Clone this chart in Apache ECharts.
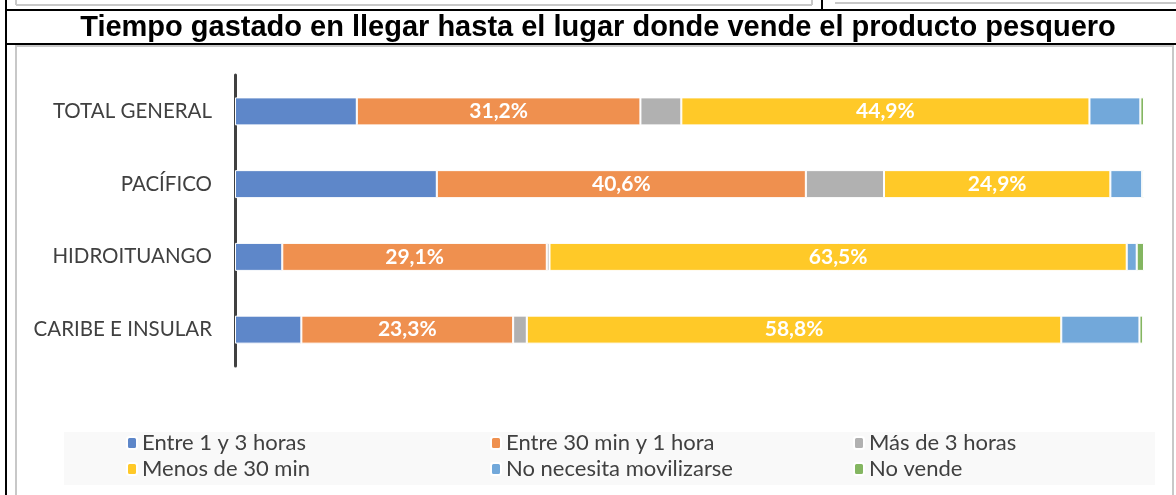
<!DOCTYPE html>
<html>
<head>
<meta charset="utf-8">
<script src="https://cdn.jsdelivr.net/npm/echarts@6/dist/echarts.min.js"></script>
<style>
  html, body { margin: 0; padding: 0; background: #fff; }
  #chart { width: 1176px; height: 495px; }
</style>
</head>
<body>
<div id="chart"></div>
<script>
// categorias (de arriba hacia abajo)
let categorias = ['TOTAL GENERAL', 'PACÍFICO', 'HIDROITUANGO', 'CARIBE E INSULAR'];

// porcentajes por serie
let entre1y3 = [13.4, 22.2, 5.2, 7.3];
let entre30y1 = [31.2, 40.6, 29.1, 23.3];
let masDe3 = [4.5, 8.6, 0.3, 1.5];
let menos30 = [44.9, 24.9, 63.5, 58.8];
let noNecesita = [5.6, 3.5, 1.1, 8.6];
let noVende = [0.4, 0.2, 0.8, 0.4];

let nombres = ['Entre 1 y 3 horas', 'Entre 30 min y 1 hora', 'Más de 3 horas',
               'Menos de 30 min', 'No necesita movilizarse', 'No vende'];
let valores = [entre1y3, entre30y1, masDe3, menos30, noNecesita, noVende];
let colores = ['#5e87c9', '#ef904f', '#b1b1b1', '#ffc928', '#72a8da', '#84b661'];
let conEtiqueta = [false, true, false, true, false, false];

// posiciones de la leyenda (3 columnas x 2 filas)
let leyendaX = [126, 490, 853];
let leyendaY = [432, 458];

let myChart = echarts.init(document.getElementById('chart'));

let series = nombres.map(function (nombre, i) {
    return {
        name: nombre,
        type: 'bar',
        stack: 'total',
        barWidth: 28,
        data: valores[i],
        itemStyle: {
            color: colores[i],
            borderColor: '#ffffff',
            borderWidth: 1
        },
        label: {
            show: conEtiqueta[i],
            position: 'inside',
            color: '#ffffff',
            fontFamily: 'Lato',
            fontWeight: 'bold',
            fontSize: 21,
            formatter: function (p) {
                return p.value.toFixed(1).replace('.', ',') + '%';
            }
        }
    };
});

let legends = nombres.map(function (nombre, i) {
    return {
        data: [nombre],
        left: leyendaX[i % 3],
        top: leyendaY[Math.floor(i / 3)],
        padding: 0,
        itemWidth: 10,
        itemHeight: 12,
        itemGap: 0,
        selectedMode: false,
        textStyle: {
            fontFamily: 'Lato',
            fontSize: 22,
            color: '#404040'
        }
    };
});

let option = {
    animation: false,
    graphic: [
        // titulo
        {
            type: 'text', x: 598, y: 13,
            style: {
                text: 'Tiempo gastado en llegar hasta el lugar donde vende el producto pesquero',
                textAlign: 'center',
                textVerticalAlign: 'top',
                font: 'bold 29px "Liberation Sans"',
                fill: '#000'
            }
        },
        // recuadros tipo tabla
        { type: 'line', shape: { x1: 6, y1: 0, x2: 6, y2: 495 }, style: { stroke: '#000', lineWidth: 2 } },
        { type: 'line', shape: { x1: 5, y1: 10, x2: 1176, y2: 10 }, style: { stroke: '#000', lineWidth: 2 } },
        { type: 'line', shape: { x1: 5, y1: 44, x2: 1176, y2: 44 }, style: { stroke: '#000', lineWidth: 2 } },
        { type: 'line', shape: { x1: 822, y1: 0, x2: 822, y2: 10 }, style: { stroke: '#000', lineWidth: 2 } },
        { type: 'line', shape: { x1: 16, y1: 0, x2: 16, y2: 5 }, style: { stroke: '#c8c8c8', lineWidth: 2 } },
        { type: 'line', shape: { x1: 16, y1: 5, x2: 812, y2: 5 }, style: { stroke: '#c8c8c8', lineWidth: 2 } },
        { type: 'line', shape: { x1: 812, y1: 0, x2: 812, y2: 5 }, style: { stroke: '#c8c8c8', lineWidth: 2 } },
        { type: 'line', shape: { x1: 835, y1: 3, x2: 1176, y2: 3 }, style: { stroke: '#c8c8c8', lineWidth: 2 } },
        { type: 'polyline', shape: { points: [[16, 495], [16, 46], [1173, 46], [1173, 495]] }, style: { stroke: '#c8c8c8', lineWidth: 2, fill: null } },
        // fondo de la leyenda
        { type: 'rect', z: -1, shape: { x: 64, y: 432, width: 1091, height: 53 }, style: { fill: '#f9f9f9' } }
    ],
    legend: legends,
    grid: {
        left: 235,
        right: 32,
        top: 75,
        height: 291
    },
    xAxis: {
        type: 'value',
        min: 0,
        max: 100,
        show: false
    },
    yAxis: {
        type: 'category',
        inverse: true,
        data: categorias,
        axisLine: { lineStyle: { color: '#404040', width: 3 } },
        axisTick: { show: false },
        axisLabel: {
            margin: 23,
            fontFamily: 'Lato',
            fontSize: 20.5,
            color: '#404040'
        }
    },
    series: series
};

myChart.setOption(option);
</script>
</body>
</html>
